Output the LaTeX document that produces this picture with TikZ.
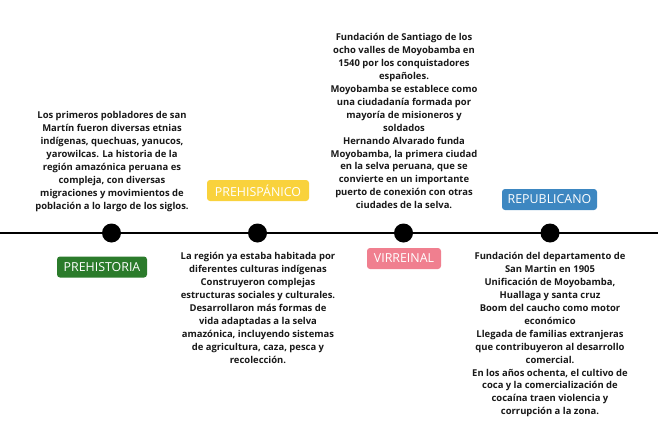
\documentclass[tikz,border=0pt]{standalone}
\usepackage{fontspec}
\setmainfont{Open Sans}
\begin{document}
\begin{tikzpicture}[x=1pt,y=-1pt,
  txt/.style={align=center,inner sep=0pt,anchor=north,font=\fontsize{9.45}{12.9}\selectfont\bfseries,text=black!90},
  era/.style={rounded corners=3pt,inner sep=0pt,minimum height=21pt,text=white,font=\fontsize{12.4}{13}\selectfont},
  dot/.style={circle,fill=black,inner sep=0pt,minimum size=19pt}]
\useasboundingbox (0,0) rectangle (658,431);
\definecolor{cgreen}{HTML}{2B7B2B}
\definecolor{cyellow}{HTML}{F9D23C}
\definecolor{cpink}{HTML}{F07F8F}
\definecolor{cblue}{HTML}{3D87C1}
\coordinate (L) at (0,233);
\coordinate (R) at (658,233);
\draw[line width=2.7pt] (L) -- (R);
\node[dot] (d1) at (111.5,233) {};
\node[dot] (d2) at (257.5,233) {};
\node[dot] (d3) at (403.5,233) {};
\node[dot] (d4) at (550,233) {};
\node[era,fill=cgreen,minimum width=90pt] (e1) at (102,267) {PREHISTORIA};
\node[era,fill=cyellow,minimum width=102pt] (e2) at (258,190.5) {PREHISPÁNICO};
\node[era,fill=cpink,minimum width=74pt] (e3) at (404,258.5) {VIRREINAL};
\node[era,fill=cblue,minimum width=95pt] (e4) at (549.5,199.5) {REPUBLICANO};
\node[txt] (t1) at (112,111.5) {Los primeros pobladores de san\\Martín fueron diversas etnias\\indígenas, quechuas, yanucos,\\yarowilcas. La historia de la\\región amazónica peruana es\\compleja, con diversas\\migraciones y movimientos de\\población a lo largo de los siglos.};
\node[txt] (t2) at (258,252.5) {La región ya estaba habitada por\\diferentes culturas indígenas\\Construyeron complejas\\estructuras sociales y culturales.\\Desarrollaron más formas de\\vida adaptadas a la selva\\amazónica, incluyendo sistemas\\de agricultura, caza, pesca y\\recolección.};
\node[txt] (t3) at (404,33.5) {Fundación de Santiago de los\\ocho valles de Moyobamba en\\1540 por los conquistadores\\españoles.\\Moyobamba se establece como\\una ciudadanía formada por\\mayoría de misioneros y\\soldados\\Hernando Alvarado funda\\Moyobamba, la primera ciudad\\en la selva peruana, que se\\convierte en un importante\\puerto de conexión con otras\\ciudades de la selva.};
\node[txt] (t4) at (550,252.5) {Fundación del departamento de\\San Martin en 1905\\Unificación de Moyobamba,\\Huallaga y santa cruz\\Boom del caucho como motor\\económico\\Llegada de familias extranjeras\\que contribuyeron al desarrollo\\comercial.\\En los años ochenta, el cultivo de\\coca y la comercialización de\\cocaína traen violencia y\\corrupción a la zona.};
\end{tikzpicture}
\end{document}
